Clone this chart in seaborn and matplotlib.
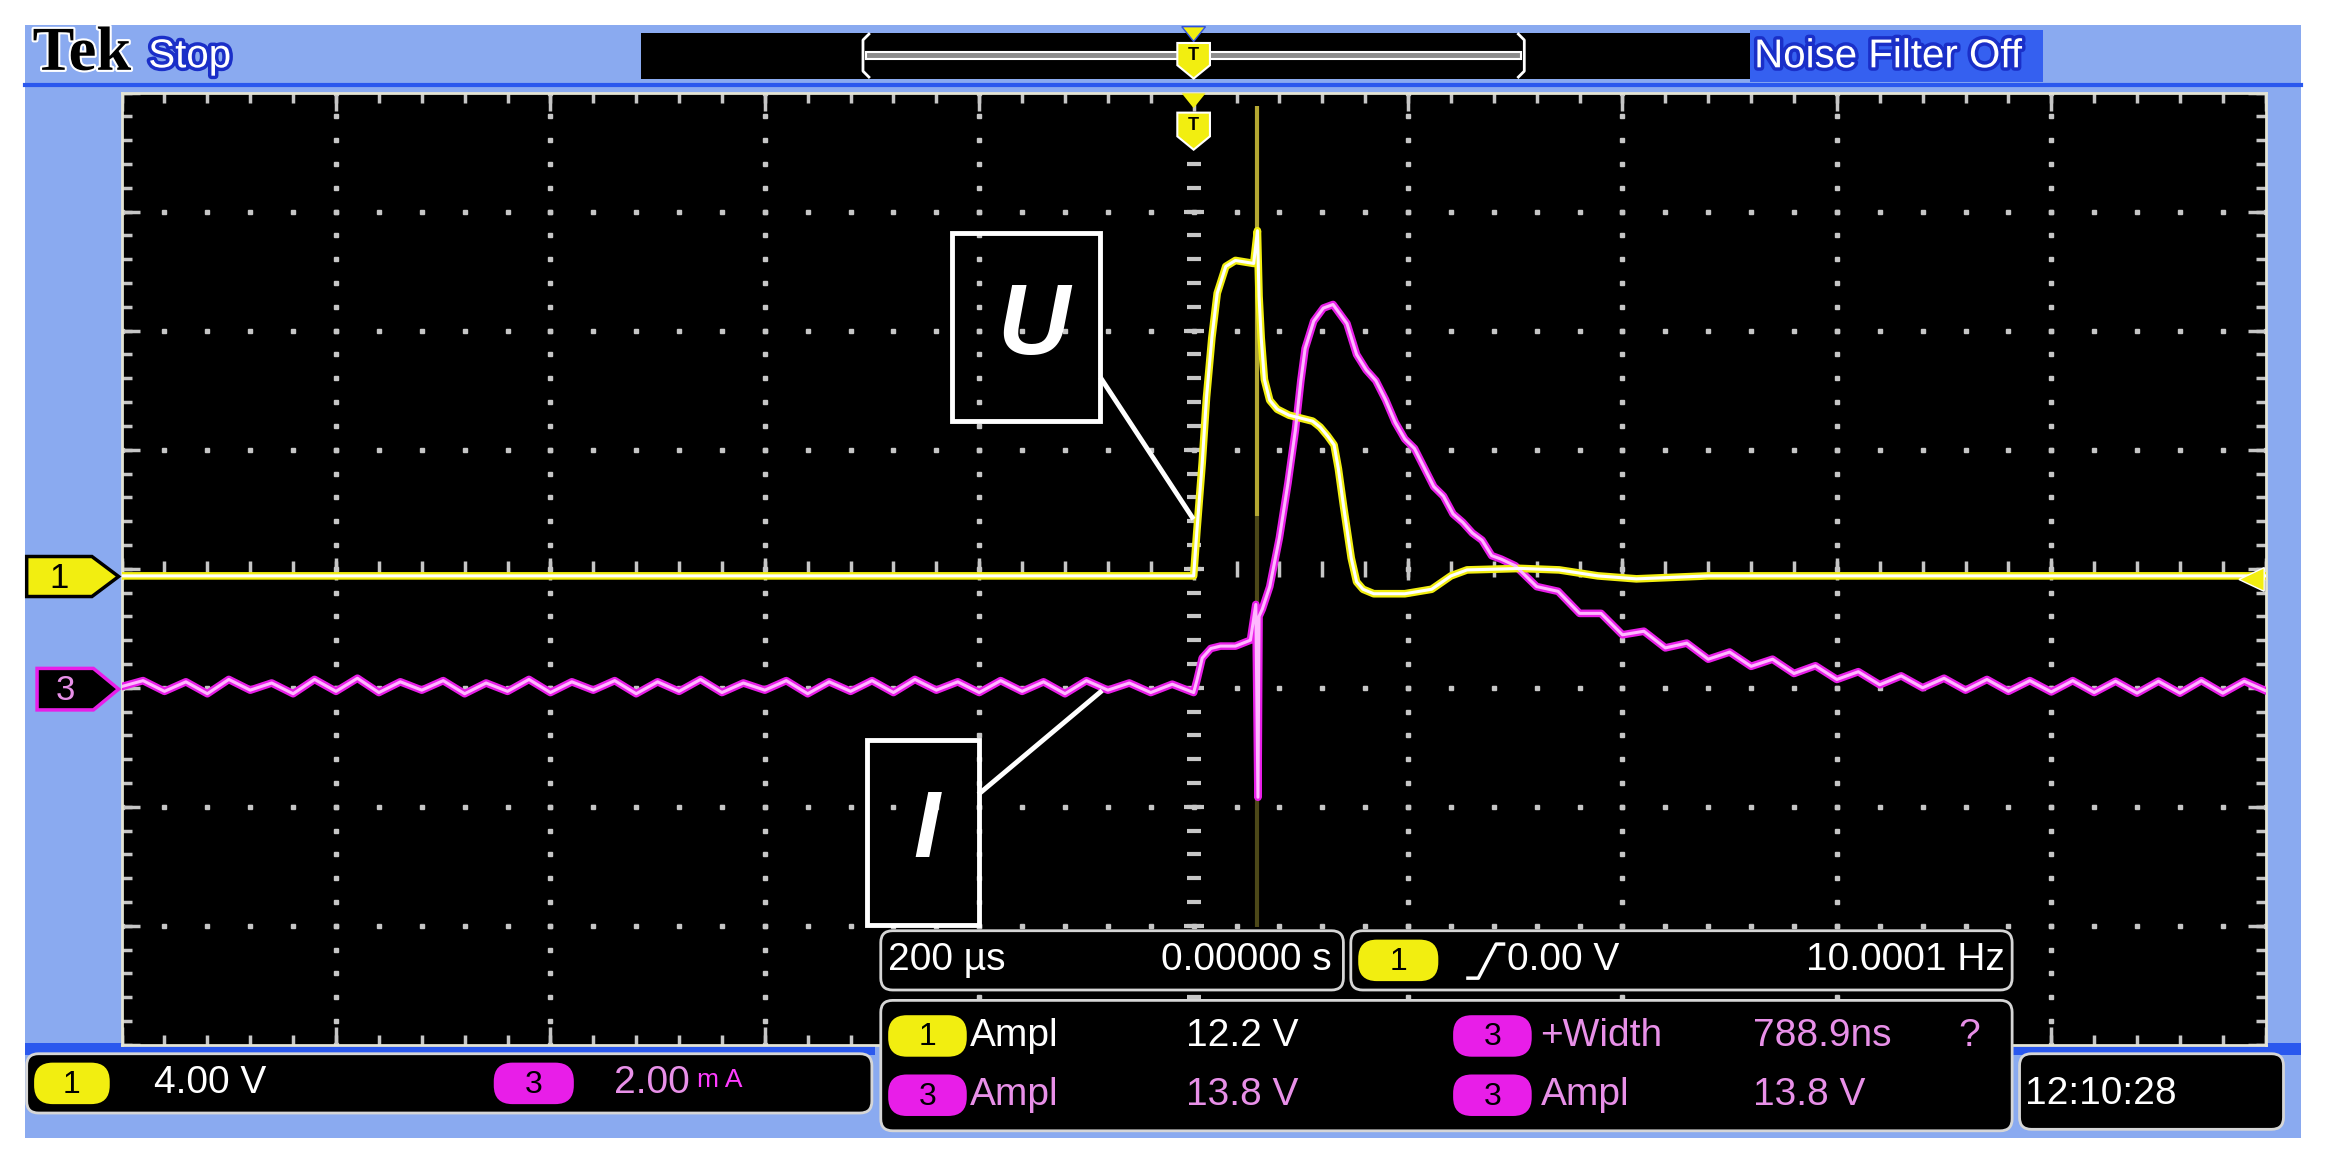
"""Tek oscilloscope capture: pulse voltage U (CH1) and current I (CH3)."""
import matplotlib
matplotlib.use("Agg")
import matplotlib.pyplot as plt
import matplotlib.patheffects as pe
from matplotlib import font_manager
from matplotlib.patches import FancyBboxPatch, Polygon, Rectangle
import numpy as np
import pandas as pd
import seaborn as sns

# ---- scope settings shown on screen ----
US_PER_DIV = 200.0
VOLTS_PER_DIV = 4.0
MA_PER_DIV = 2.0
CH1_GROUND_DIV = -0.06
CH3_GROUND_DIV = -1.0

# ---- CH1 (U), volts ----
ch1_t_us = [-1000, -600, -200, 0, 3, 8, 12, 17, 22, 30, 39, 56, 59.5, 61, 63,
            66, 71, 78, 89, 100, 111, 118, 125, 131, 135, 140, 147, 152, 158,
            168, 197, 222, 240, 255, 305, 341, 377, 413, 480, 700, 1000]
ch1_volts = [0, 0, 0, 0, 1.5, 3.8, 6.0, 8.0, 9.5, 10.4, 10.6, 10.5, 11.6, 9.4,
             8.0, 6.6, 5.9, 5.6, 5.4, 5.3, 5.2, 5.0, 4.7, 4.4, 3.6, 2.3, 0.6,
             -0.2, -0.45, -0.6, -0.6, -0.45, 0.0, 0.2, 0.25, 0.2, 0.0, -0.1, 0,
             0, 0]

# fast transient on CH1 (thin vertical streak), volts
glitch_t_us = 59.5
glitch_volts = [15.8, 2.0, -11.8]

# ---- CH3 (I), mA ----
# pre-trigger ripple, one sample every 20 us from -1000 us
ch3_pre_mA = [0.02, 0.12, -0.06, 0.10, -0.10, 0.14, -0.04, 0.08, -0.10, 0.14,
              -0.06, 0.16, -0.08, 0.10, -0.04, 0.12, -0.10, 0.08, -0.06, 0.14,
              -0.08, 0.10, -0.04, 0.12, -0.10, 0.10, -0.06, 0.14, -0.08, 0.08,
              -0.04, 0.12, -0.10, 0.10, -0.06, 0.12, -0.08, 0.14, -0.04, 0.10,
              -0.08, 0.12, -0.06, 0.10, -0.10, 0.12, -0.04, 0.08, -0.08, 0.06]
ch3_pulse_t_us = [0, 3, 8, 16, 25, 39, 53, 58, 60, 61, 64, 71, 80, 88, 95, 100,
                  104, 112, 121, 130, 143, 152, 161, 170, 179, 188, 197, 206,
                  215, 224, 233, 242, 251, 260, 269, 278, 287]
ch3_pulse_mA = [-0.08, 0.12, 0.50, 0.66, 0.70, 0.70, 0.80, 1.40, -1.84, 1.20,
                1.32, 1.70, 2.52, 3.44, 4.34, 5.16, 5.70, 6.16, 6.38, 6.44,
                6.12, 5.60, 5.34, 5.16, 4.84, 4.46, 4.18, 4.02, 3.70, 3.38,
                3.22, 2.92, 2.78, 2.60, 2.48, 2.22, 2.16]
# decaying tail, one sample every 20 us from 300 us
ch3_tail_mA = [2.05, 1.70, 1.62, 1.25, 1.25, 0.89, 0.95, 0.67, 0.75, 0.48,
               0.60, 0.36, 0.48, 0.24, 0.37, 0.14, 0.27, 0.05, 0.20, 0.00,
               0.16, -0.04, 0.14, -0.06, 0.12, -0.07, 0.12, -0.08, 0.11, -0.09,
               0.11, -0.09, 0.12, -0.09, 0.11, -0.05]

# ---- readouts ----
timebase_text = ["200 µs", "0.00000 s"]
trigger_text = ["0.00 V", "10.0001 Hz"]
meas_rows = [
    [("1", "Ampl", "12.2 V"), ("3", "+Width", "788.9ns")],
    [("3", "Ampl", "13.8 V"), ("3", "Ampl", "13.8 V")],
]
scale_text = [("1", "4.00 V"), ("3", "2.00")]
clock_text = "12:10:28"

# ---- look ----
W, H = 1568, 780          # layout units (screen pixels / 1.483)
BEZEL = "#8aaaf0"
DARK_BLUE = "#2a58ee"
YELLOW = "#f2ee10"
MAGENTA = "#e81ee8"
PINK = "#e890e8"
GRID = "#c6c6c6"

names = {f.name for f in font_manager.fontManager.ttflist}
SANS = "Liberation Sans" if "Liberation Sans" in names else "DejaVu Sans"
SERIF = "Liberation Serif" if "Liberation Serif" in names else "DejaVu Serif"

fig = plt.figure(figsize=(23.25, 11.56), dpi=100)
fig.patch.set_facecolor("white")

bez = fig.add_axes([0, 0, 1, 1], zorder=0)
bez.set_xlim(0, W)
bez.set_ylim(H, 0)
bez.axis("off")

ax = fig.add_axes([82 / W, 1 - 705 / H, 1446 / W, 642.5 / H], zorder=1)
hud = fig.add_axes([0, 0, 1, 1], zorder=2)
hud.set_xlim(0, W)
hud.set_ylim(H, 0)
hud.axis("off")
hud.patch.set_alpha(0)

# ---- bezel ----
bez.add_patch(Rectangle((17, 17), 1535, 751, fc=BEZEL, ec="none"))
bez.add_patch(Rectangle((432, 22), 748, 31, fc="black", ec="none"))
bez.add_patch(Rectangle((1180, 20), 198, 35, fc="#3560f0", ec="none"))
bez.plot([17, 1552], [57.5, 57.5], color=DARK_BLUE, lw=3)
bez.add_patch(Rectangle((17, 704), 573, 8, fc=DARK_BLUE, ec="none"))
bez.add_patch(Rectangle((1357, 704), 195, 8, fc=DARK_BLUE, ec="none"))

# ---- graticule ----
ax.set_facecolor("black")
ax.set_xlim(-5 * US_PER_DIV, 5 * US_PER_DIV)
ax.set_ylim(-4, 4)
ax.set_xticks([])
ax.set_yticks([])
for sp in ax.spines.values():
    sp.set_color("#e4e4d4")
    sp.set_linewidth(2)

fine_t = np.arange(-1000, 1001, 40)
fine_y = np.round(np.arange(-4, 4.001, 0.2), 3)
major_t = np.arange(-1000, 1001, 200)
major_y = np.arange(-4, 5, 1)
dot = dict(ls="none", color=GRID, zorder=1)
for t in major_t[1:-1]:
    if t != 0:
        ax.plot(np.full(fine_y.size, t), fine_y, marker="s", ms=2.8, **dot)
for y in major_y[1:-1]:
    if y != 0:
        ax.plot(fine_t, np.full(fine_t.size, y), marker="s", ms=2.8, **dot)
ax.plot(np.zeros(fine_y.size), fine_y, marker="_", ms=10, mew=3, **dot)
ax.plot(np.zeros(major_y.size), major_y, marker="_", ms=15, mew=3, **dot)
ax.plot(fine_t, np.zeros(fine_t.size), marker="|", ms=11, mew=2.5, **dot)
ax.plot(major_t, np.zeros(major_t.size), marker="|", ms=16, mew=2.5, **dot)
for y in (-4, 4):
    ax.plot(fine_t, np.full(fine_t.size, y), marker="|", ms=14, mew=2.5, **dot)
    ax.plot(major_t, np.full(major_t.size, y), marker="|", ms=26, mew=2.5, **dot)
for t in (-1000, 1000):
    ax.plot(np.full(fine_y.size, t), fine_y, marker="_", ms=14, mew=2.5, **dot)
    ax.plot(np.full(major_y.size, t), major_y, marker="_", ms=26, mew=2.5, **dot)

# ---- traces ----
g = np.array(glitch_volts) / VOLTS_PER_DIV + CH1_GROUND_DIV
ax.vlines(glitch_t_us, g[2], g[1], color="#4c4818", lw=3, zorder=2)
ax.vlines(glitch_t_us, g[1], g[0], color="#b4a832", lw=3, zorder=2)

ch3_t = np.concatenate([np.arange(-1000, 0, 20), ch3_pulse_t_us,
                        np.arange(300, 1001, 20)])
ch3_mA = np.concatenate([ch3_pre_mA, ch3_pulse_mA, ch3_tail_mA])
df3 = pd.DataFrame({"t": ch3_t, "div": ch3_mA / MA_PER_DIV + CH3_GROUND_DIV})
df1 = pd.DataFrame({"t": ch1_t_us,
                    "div": np.array(ch1_volts) / VOLTS_PER_DIV + CH1_GROUND_DIV})

for df, outer, inner in ((df3, MAGENTA, "#ffb8ff"), (df1, YELLOW, "white")):
    sns.lineplot(data=df, x="t", y="div", ax=ax, color=outer, lw=5.5,
                 estimator=None, sort=False, legend=False, zorder=3)
    sns.lineplot(data=df, x="t", y="div", ax=ax, color=inner, lw=2.2,
                 estimator=None, sort=False, legend=False, zorder=4)
ax.set_xlabel("")
ax.set_ylabel("")


# ---- HUD helpers ----
def txt(x, y, s, color="white", size=28, ha="left", family=SANS, **kw):
    return hud.text(x, y, s, color=color, fontsize=size, ha=ha, va="center",
                    family=family, **kw)


def box(x0, y0, x1, y1, r=8):
    hud.add_patch(FancyBboxPatch((x0, y0), x1 - x0, y1 - y0,
                                 boxstyle=f"round,pad=0,rounding_size={r}",
                                 fc="black", ec="#d6d6d6", lw=2))


def badge(x0, x1, yc, num, h=28):
    face = YELLOW if num == "1" else MAGENTA
    hud.add_patch(FancyBboxPatch((x0, yc - h / 2), x1 - x0, h,
                                 boxstyle=f"round,pad=0,rounding_size={h * 0.45}",
                                 fc=face, ec="none"))
    txt((x0 + x1) / 2, yc + 1, num, color="black", size=23, ha="center")


def flag_right(x0, x1, tip, yc, h, face, edge, num, tcolor):
    pts = [(x0, yc - h / 2), (x1, yc - h / 2), (tip, yc), (x1, yc + h / 2),
           (x0, yc + h / 2)]
    hud.add_patch(Polygon(pts, closed=True, fc=face, ec=edge, lw=2.5))
    txt((x0 + x1) / 2, yc + 1, num, color=tcolor, size=25, ha="center")


def trig_flag(xc, y0, y1, tip):
    pts = [(xc - 11, y0), (xc + 11, y0), (xc + 11, y1), (xc, tip), (xc - 11, y1)]
    hud.add_patch(Polygon(pts, closed=True, fc=YELLOW, ec="white", lw=1.5))
    txt(xc, (y0 + y1) / 2 + 1, "T", color="black", size=13, ha="center",
        weight="bold")


outline_blue = [pe.withStroke(linewidth=5, foreground="#1a2fc8")]

# ---- top bar ----
txt(22, 37, "Tek", color="black", size=45, family=SERIF, weight="bold",
    path_effects=[pe.withStroke(linewidth=3, foreground="white")])
txt(100, 38, "Stop", size=29, path_effects=outline_blue)
txt(1183, 38, "Noise Filter Off", size=29, path_effects=outline_blue)
hud.add_patch(Rectangle((584, 35), 442, 5, fc="#8c8c8c", ec="white", lw=1.5))
hud.plot([586, 582, 582, 586], [23, 27, 48, 52], color="white", lw=2)
hud.plot([1024, 1028, 1028, 1024], [23, 27, 48, 52], color="white", lw=2)
hud.add_patch(Polygon([(797, 18), (813, 18), (805, 28)], fc=YELLOW, ec="#3050e0", lw=1))
trig_flag(805, 29, 44, 53)
hud.add_patch(Polygon([(797, 63), (813, 63), (805, 73)], fc=YELLOW, ec="none"))
trig_flag(805, 76, 92, 101)

# ---- channel markers and trigger level ----
flag_right(18, 62, 80, 389, 27, YELLOW, "black", "1", "black")
flag_right(25, 63, 80, 465, 28, "black", MAGENTA, "3", PINK)
hud.add_patch(Polygon([(1510, 391), (1527, 383), (1527, 399)], fc=YELLOW, ec="white", lw=1))

# ---- U / I labels ----
hud.add_patch(Rectangle((642, 157), 100, 127, fc="none", ec="white", lw=3.5))
txt(697, 221, "U", size=72, ha="center", weight="bold", style="italic")
hud.plot([743, 804], [256, 349], color="white", lw=3.5)
hud.add_patch(Rectangle((585, 499), 75, 125, fc="none", ec="white", lw=3.5))
txt(625, 562, "I", size=68, ha="center", weight="bold", style="italic")
hud.plot([661, 742], [535, 467], color="white", lw=3.5)

# ---- bottom readouts ----
box(18, 711, 588, 751)
badge(23, 74, 731, scale_text[0][0])
txt(104, 731, scale_text[0][1])
badge(333, 387, 731, scale_text[1][0])
txt(414, 731, scale_text[1][1], color=PINK)
txt(470, 729, "m A", color="#ff3cff", size=19)

box(594, 628, 906, 668)
txt(599, 648, timebase_text[0])
txt(898, 648, timebase_text[1], ha="right")

box(911, 628, 1357, 668)
badge(916, 970, 648, "1")
hud.plot([990, 997, 1009, 1014], [660, 660, 637, 637], color="white", lw=2.5)
txt(1016, 648, trigger_text[0])
txt(1352, 648, trigger_text[1], ha="right")

box(594, 675, 1357, 763)
for row, yc in zip(meas_rows, (699, 739)):
    for (ch, name, val), (xb, xn, xv) in zip(row, ((599, 654, 800), (980, 1039, 1182))):
        color = "white" if ch == "1" else PINK
        badge(xb, xb + 53, yc, ch)
        txt(xn, yc, name, color=color)
        txt(xv, yc, val, color=color)
txt(1321, 699, "?", color=PINK)

box(1362, 711, 1540, 762)
txt(1366, 738, clock_text)

fig.savefig("out.png", dpi=100, facecolor="white")
